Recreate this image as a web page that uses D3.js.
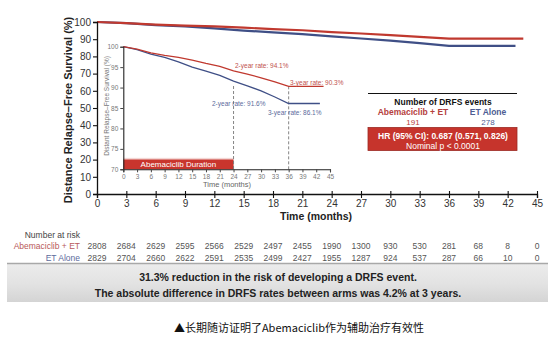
<!DOCTYPE html>
<html>
<head>
<meta charset="utf-8">
<script src="https://cdn.jsdelivr.net/npm/d3@7"></script>
<style>
  body { margin: 0; background: #fff; }
  svg { font-family: "Liberation Sans", Arial, sans-serif; display: block; }
</style>
</head>
<body>
<svg width="555" height="343"></svg>
<script>
// KM curve values
var months = [0, 3, 6, 9, 12, 15, 18, 21, 24, 27, 30, 33, 36];
var abemaDRFS = [100, 99.4, 98.5, 97.9, 97.4, 96.7, 95.9, 95.2, 94.1, 93.3, 92.4, 91.4, 90.3];
var etDRFS = [100, 99.3, 98.2, 97.4, 96.3, 95.0, 94.0, 93.0, 91.6, 90.4, 89.2, 87.7, 86.1];
var lastMonth = [43.6, 42.8]; // abema, et - curves go flat after 36

var riskMonths = [0, 3, 6, 9, 12, 15, 18, 21, 24, 27, 30, 33, 36, 39, 42, 45];
var abemaRisk = [2808, 2684, 2629, 2595, 2566, 2529, 2497, 2455, 1990, 1300, 930, 530, 281, 68, 8, 0];
var etRisk = [2829, 2704, 2660, 2622, 2591, 2535, 2499, 2427, 1955, 1287, 924, 537, 287, 66, 10, 0];

var mainYTicks = [0, 10, 20, 30, 40, 50, 60, 70, 80, 90, 100];
var insetYTicks = [70, 75, 80, 85, 90, 95, 100];
var xTicks = d3.range(0, 46, 3);

var red = '#c0392f';
var blue = '#3f4f86';
var redText = '#c0504d';
var blueText = '#5b6a9c';

var svg = d3.select('svg');

function series(vals, end) {
  var pts = months.map(function (m, i) { return [m, vals[i]]; });
  pts.push([end, vals[vals.length - 1]]);
  return pts;
}
var abemaPts = series(abemaDRFS, lastMonth[0]);
var etPts = series(etDRFS, lastMonth[1]);

// ---------- main chart ----------
var x = d3.scaleLinear().domain([0, 45]).range([97, 537]);
var y = d3.scaleLinear().domain([0, 100]).range([194, 22]);

var line = d3.line().x(function (d) { return x(d[0]); }).y(function (d) { return y(d[1]); });

svg.append('path').datum(etPts).attr('d', line)
  .style('fill', 'none').style('stroke', blue).style('stroke-width', 2.2);
svg.append('path').datum(abemaPts).attr('d', line)
  .style('fill', 'none').style('stroke', red).style('stroke-width', 2.2);

var yAxis = svg.append('g')
  .attr('transform', 'translate(97,0)')
  .call(d3.axisLeft(y).tickValues(mainYTicks).tickSize(4).tickPadding(2));
var xAxis = svg.append('g')
  .attr('transform', 'translate(0,194)')
  .call(d3.axisBottom(x).tickValues(xTicks).tickSize(4).tickPadding(2));

[yAxis, xAxis].forEach(function (g) {
  g.select('.domain').style('stroke', '#111').style('stroke-width', 1.3);
  g.selectAll('.tick line').style('stroke', '#111').style('stroke-width', 1.1);
  g.selectAll('.tick text').style('font-size', '10px').style('fill', '#333');
});
// ticks crossing the axis upward as in the original
xAxis.selectAll('.tick').append('line').attr('y1', 0).attr('y2', -3)
  .style('stroke', '#111').style('stroke-width', 1.1);

svg.append('text')
  .text('Distance Relapse\u2013Free Survival (%)')
  .attr('transform', 'translate(72,110) rotate(-90)')
  .attr('text-anchor', 'middle')
  .style('font-size', '11px').style('font-weight', 'bold').style('fill', '#222');

svg.append('text')
  .text('Time (months)')
  .attr('x', 316).attr('y', 220)
  .attr('text-anchor', 'middle')
  .style('font-size', '10.5px').style('font-weight', 'bold').style('fill', '#222');

// ---------- inset ----------
var ix = d3.scaleLinear().domain([0, 45]).range([123.3, 330]);
var iy = d3.scaleLinear().domain([70, 100]).range([169.3, 46.7]);
var iline = d3.line().x(function (d) { return ix(d[0]); }).y(function (d) { return iy(d[1]); });

// abemaciclib duration bar
svg.append('rect')
  .attr('x', ix(0)).attr('y', iy(72.8))
  .attr('width', ix(24) - ix(0)).attr('height', iy(70) - iy(72.8))
  .style('fill', '#f3d6d4');
svg.append('rect')
  .attr('x', ix(0)).attr('y', iy(72.4))
  .attr('width', ix(24) - ix(0)).attr('height', iy(70) - iy(72.4))
  .style('fill', '#c9352d');
svg.append('text')
  .text('Abemaciclib Duration')
  .attr('x', (ix(0) + ix(24)) / 2).attr('y', iy(71.2) + 3)
  .attr('text-anchor', 'middle')
  .style('font-size', '8px').style('fill', '#fff');

// dashed markers at 2 and 3 years
svg.append('line')
  .attr('x1', ix(24)).attr('x2', ix(24)).attr('y1', iy(etDRFS[8]) + 5).attr('y2', iy(70))
  .style('stroke', '#777').style('stroke-width', 0.9).style('stroke-dasharray', '3,2');
svg.append('line')
  .attr('x1', ix(36)).attr('x2', ix(36)).attr('y1', iy(abemaDRFS[12])).attr('y2', iy(70))
  .style('stroke', '#777').style('stroke-width', 0.9).style('stroke-dasharray', '3,2');

svg.append('path').datum(etPts).attr('d', iline)
  .style('fill', 'none').style('stroke', blue).style('stroke-width', 1.3);
svg.append('path').datum(abemaPts).attr('d', iline)
  .style('fill', 'none').style('stroke', red).style('stroke-width', 1.3);

var iyAxis = svg.append('g')
  .attr('transform', 'translate(' + ix(0) + ',0)')
  .call(d3.axisLeft(iy).tickValues(insetYTicks).tickSize(3).tickPadding(2));
var ixAxis = svg.append('g')
  .attr('transform', 'translate(0,' + iy(70) + ')')
  .call(d3.axisBottom(ix).tickValues(xTicks).tickSize(3).tickPadding(2));
[iyAxis, ixAxis].forEach(function (g) {
  g.select('.domain').style('stroke', '#222').style('stroke-width', 1.1);
  g.selectAll('.tick line').style('stroke', '#444');
  g.selectAll('.tick text').style('font-size', '6.5px').style('fill', '#777');
});

svg.append('text')
  .text('Distant Relapse\u2013Free Survival (%)')
  .attr('transform', 'translate(109,106) rotate(-90)')
  .attr('text-anchor', 'middle')
  .style('font-size', '6.5px').style('fill', '#777');
svg.append('text')
  .text('Time (months)')
  .attr('x', 227).attr('y', 187)
  .attr('text-anchor', 'middle')
  .style('font-size', '7.5px').style('fill', '#666');

var notes = [
  { t: '2-year rate: 94.1%', x: 235, y: 68, c: redText },
  { t: '3-year rate: 90.3%', x: 290, y: 84.5, c: redText },
  { t: '2-year rate: 91.6%', x: 212, y: 105.5, c: blueText },
  { t: '3-year rate: 86.1%', x: 268, y: 114.5, c: blueText }
];
svg.selectAll('.note').data(notes).enter().append('text')
  .attr('class', 'note')
  .text(function (d) { return d.t; })
  .attr('x', function (d) { return d.x; })
  .attr('y', function (d) { return d.y; })
  .style('font-size', '6.5px')
  .style('fill', function (d) { return d.c; });

// ---------- DRFS events box ----------
svg.append('line')
  .attr('x1', 368).attr('x2', 517).attr('y1', 93.5).attr('y2', 93.5)
  .style('stroke', '#111').style('stroke-width', 1.2);
svg.append('text').text('Number of DRFS events')
  .attr('x', 443).attr('y', 104.5).attr('text-anchor', 'middle')
  .style('font-size', '8.5px').style('font-weight', 'bold').style('fill', '#111');
svg.append('text').text('Abemaciclib + ET')
  .attr('x', 413).attr('y', 114.5).attr('text-anchor', 'middle')
  .style('font-size', '8.5px').style('font-weight', 'bold').style('fill', '#b5403d');
svg.append('text').text('191')
  .attr('x', 413).attr('y', 124.5).attr('text-anchor', 'middle')
  .style('font-size', '8px').style('fill', '#b5403d');
svg.append('text').text('ET Alone')
  .attr('x', 488).attr('y', 114.5).attr('text-anchor', 'middle')
  .style('font-size', '8.5px').style('font-weight', 'bold').style('fill', '#4e5d93');
svg.append('text').text('278')
  .attr('x', 488).attr('y', 124.5).attr('text-anchor', 'middle')
  .style('font-size', '8px').style('fill', '#4e5d93');
svg.append('rect')
  .attr('x', 368).attr('y', 127.5).attr('width', 149).attr('height', 23)
  .style('fill', '#c6342c').style('stroke', '#9c2a24').style('stroke-width', 0.8);
svg.append('text').text('HR (95% CI): 0.687 (0.571, 0.826)')
  .attr('x', 443).attr('y', 138.5).attr('text-anchor', 'middle')
  .style('font-size', '8.5px').style('font-weight', 'bold').style('fill', '#fff');
svg.append('text').text('Nominal p < 0.0001')
  .attr('x', 443).attr('y', 148.5).attr('text-anchor', 'middle')
  .style('font-size', '8.5px').style('fill', '#fff');

// ---------- number at risk ----------
svg.append('text').text('Number at risk')
  .attr('x', 80).attr('y', 238).attr('text-anchor', 'end')
  .style('font-size', '8.5px').style('fill', '#444');
svg.append('text').text('Abemaciclib + ET')
  .attr('x', 80).attr('y', 249).attr('text-anchor', 'end')
  .style('font-size', '8.5px').style('fill', '#b8595a');
svg.append('text').text('ET Alone')
  .attr('x', 80).attr('y', 261).attr('text-anchor', 'end')
  .style('font-size', '8.5px').style('fill', '#5b6a9c');

svg.selectAll('.riskA').data(abemaRisk).enter().append('text')
  .attr('class', 'riskA')
  .text(function (d) { return d; })
  .attr('x', function (d, i) { return x(riskMonths[i]); })
  .attr('y', 249).attr('text-anchor', 'middle')
  .style('font-size', '8.5px').style('fill', '#555');
svg.selectAll('.riskE').data(etRisk).enter().append('text')
  .attr('class', 'riskE')
  .text(function (d) { return d; })
  .attr('x', function (d, i) { return x(riskMonths[i]); })
  .attr('y', 261).attr('text-anchor', 'middle')
  .style('font-size', '8.5px').style('fill', '#555');

// ---------- grey banner ----------
var grad = svg.append('defs').append('linearGradient')
  .attr('id', 'band').attr('x1', 0).attr('y1', 0).attr('x2', 0).attr('y2', 1);
grad.append('stop').attr('offset', '0%').attr('stop-color', '#ececec');
grad.append('stop').attr('offset', '55%').attr('stop-color', '#e2e2e2');
grad.append('stop').attr('offset', '100%').attr('stop-color', '#d4d4d4');

svg.append('rect')
  .attr('x', 7).attr('y', 263.5).attr('width', 541).attr('height', 38.5)
  .style('fill', 'url(#band)');
svg.append('line')
  .attr('x1', 7).attr('x2', 548).attr('y1', 263.5).attr('y2', 263.5)
  .style('stroke', '#a8a8a8').style('stroke-width', 1.5);

svg.append('text').text('31.3% reduction in the risk of developing a DRFS event.')
  .attr('x', 278).attr('y', 281).attr('text-anchor', 'middle')
  .style('font-size', '10.5px').style('font-weight', 'bold').style('fill', '#222');
svg.append('text').text('The absolute difference in DRFS rates between arms was 4.2% at 3 years.')
  .attr('x', 278).attr('y', 296.5).attr('text-anchor', 'middle')
  .style('font-size', '10.5px').style('font-weight', 'bold').style('fill', '#222');

// caption
svg.append('text').text('\u25B2长期随访证明了Abemaciclib作为辅助治疗有效性')
  .attr('x', 299).attr('y', 332).attr('text-anchor', 'middle')
  .style('font-family', '"Noto Sans CJK SC", sans-serif')
  .style('font-size', '11px').style('fill', '#111');
</script>
</body>
</html>
